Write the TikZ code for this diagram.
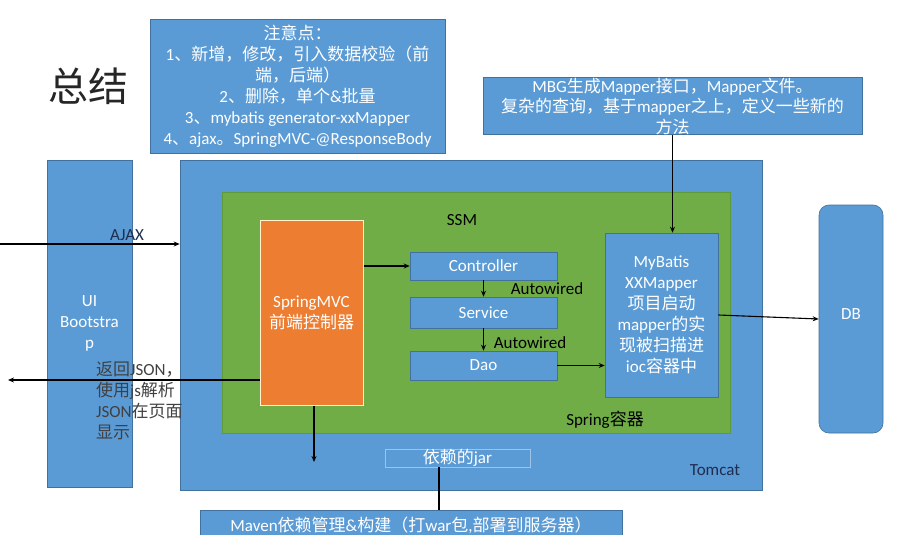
\documentclass[tikz,border=0pt]{standalone}
\usepackage{fontspec}
\setmainfont{Carlito}
\newfontfamily\cjk{Noto Sans CJK SC}
\newfontfamily\lat{Carlito}
\usetikzlibrary{arrows.meta}
\XeTeXinterchartokenstate=1
\newXeTeXintercharclass\cjkcls
\newcount\cjkcc
\cjkcc="4E00 \loop \XeTeXcharclass\cjkcc=\cjkcls \ifnum\cjkcc<"9FFF \advance\cjkcc by 1 \repeat
\cjkcc="3000 \loop \XeTeXcharclass\cjkcc=\cjkcls \ifnum\cjkcc<"303F \advance\cjkcc by 1 \repeat
\cjkcc="FF00 \loop \XeTeXcharclass\cjkcc=\cjkcls \ifnum\cjkcc<"FFEF \advance\cjkcc by 1 \repeat
\XeTeXinterchartoks 0 \cjkcls = {\cjk}
\XeTeXinterchartoks 4095 \cjkcls = {\cjk}
\XeTeXinterchartoks \cjkcls 0 = {\lat}
\XeTeXinterchartoks \cjkcls 4095 = {\lat}
\definecolor{blu}{HTML}{5B9BD5}
\definecolor{bluedge}{HTML}{41719C}
\definecolor{grn}{HTML}{70AD47}
\definecolor{grnedge}{HTML}{5E9A3A}
\definecolor{org}{HTML}{ED7D31}
\definecolor{orgedge}{HTML}{FFF2CC}
\definecolor{navy}{HTML}{1F2D4F}
\definecolor{dgray}{HTML}{404040}
\tikzset{
  bx/.style={fill=blu, draw=bluedge, line width=0.6pt, inner sep=0pt, text=white, align=center,
    font=\fontsize{17}{21}\selectfont},
  lbl/.style={inner sep=0pt, font=\fontsize{17}{21}\selectfont, text=black},
  arr/.style={line width=1.1pt, -{Stealth[length=6pt,width=5pt]}},
  ln/.style={line width=1.1pt}
}
\begin{document}
\begin{tikzpicture}[x=1pt,y=-1pt]
\useasboundingbox (0,0) rectangle (900,535);
% title
\node[inner sep=0pt, font=\fontsize{40}{44}\selectfont, text=black!85] (title) at (88,86) {\cjk 总结};
% notes box
\node[bx, minimum width=295, minimum height=134] (notes) at (297.5,86)
  {\cjk 注意点：\\1、新增，修改，引入数据校验（前\\端，后端）\\2、删除，单个\&批量\\3、mybatis generator-xxMapper\\4、ajax。SpringMVC-@ResponseBody};
% MBG box
\node[bx, minimum width=379, minimum height=57, font=\fontsize{17}{20.5}\selectfont] (mbg) at (672.5,106)
  {MBG生成Mapper接口，Mapper文件。\\\cjk 复杂的查询，基于mapper之上，定义一些新的\\\cjk 方法};
% UI box
\node[bx, minimum width=85, minimum height=327] (ui) at (89.5,323.5) {UI\\Bootstra\\p};
% tomcat
\node[bx, minimum width=582, minimum height=330] (tomcat) at (471,325) {};
% spring
\node[fill=grn, draw=grnedge, line width=0.6pt, minimum width=508, minimum height=241, inner sep=0pt] (spring) at (476,312.5) {};
% springmvc
\node[fill=org, draw=orgedge, line width=1pt, minimum width=103, minimum height=185, inner sep=0pt,
  text=white, align=center, font=\fontsize{17}{21}\selectfont] (mvc) at (311.5,312.5) {SpringMVC\\\cjk 前端控制器};
% layers
\node[bx, minimum width=147, minimum height=28] (ctrl) at (483.5,266) {Controller};
\node[bx, minimum width=147, minimum height=31] (svc) at (483.5,312.5) {Service};
\node[bx, minimum width=147, minimum height=29] (dao) at (483.5,365.5) {Dao};
% mybatis
\node[bx, minimum width=113, minimum height=164] (mybatis) at (661.5,315)
  {MyBatis\\XXMapper\\\cjk 项目启动\\mapper的实\\\cjk 现被扫描进\\ioc容器中};
% DB
\node[bx, rounded corners=10pt, minimum width=64, minimum height=228] (db) at (851,319) {\raisebox{10pt}{DB}};
% jar
\node[bx, draw=blu!60!white, line width=0.8pt, minimum width=145, minimum height=18] (jar) at (457.5,458) {\cjk 依赖的jar};
% maven
\node[bx, minimum width=422, minimum height=30] (maven) at (411,525)
  {Maven依赖管理\&构建（打war包,部署到服务器）};
% labels
\node[lbl] (ssm) at (462,220) {SSM};
\node[lbl] (aw1) at (547,289) {Autowired};
\node[lbl] (aw2) at (530,343) {Autowired};
\node[lbl] (springlbl) at (605,420) {Spring容器};
\node[lbl, text=navy] (tomcatlbl) at (715,470) {Tomcat};
\node[lbl, text=navy] (ajaxlbl) at (127,235) {AJAX};
\node[lbl, text=dgray, anchor=west, align=left] (retlbl) at (96,401)
  {\cjk 返回JSON，\\\cjk 使用js解析\\JSON在页面\\\cjk 显示};
% connectors
\coordinate (ajaxs) at (0,244);
\draw[arr] (ajaxs) -- (ajaxs -| tomcat.west);
\coordinate (rets) at (8,380);
\draw[arr] (rets -| mvc.west) -- (rets);
\draw[arr] (mvc.east |- ctrl) -- (ctrl.west);
\draw[arr] (ctrl.south) -- (svc.north);
\draw[arr] (svc.south) -- (dao.north);
\draw[arr] (dao.east) -- (dao.east -| mybatis.west);
\draw[arr] (mbg.south) -- (mbg.south |- mybatis.north);
\draw[arr] (mybatis.east) -- (db.west);
\coordinate (mvcdown) at (314,462);
\draw[arr] (mvcdown |- mvc.south) -- (mvcdown);
\draw[ln] ([xshift=-18.5pt]jar.south) -- ([xshift=-18.5pt]jar.south |- maven.north);
\end{tikzpicture}
\end{document}
